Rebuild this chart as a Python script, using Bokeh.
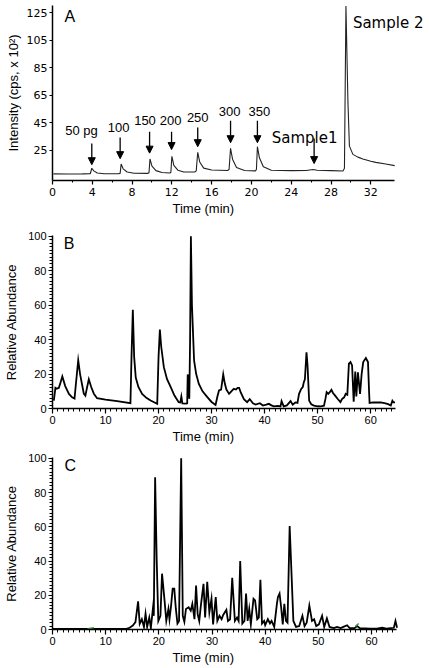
from bokeh.plotting import figure
from bokeh.layouts import column
from bokeh.models import (Range1d, FixedTicker, Arrow, NormalHead, Label,
                          LabelSet, ColumnDataSource, Title)
from bokeh.core.properties import value
from bokeh.embed import file_html
from bokeh.resources import INLINE

# ---------------- Panel A data (time in min, intensity in cps x 10^2) -------------
a_time = [0.1, 1.5, 3.0, 3.8, 3.95, 4.15, 4.5, 5.2, 6.6, 6.8, 6.9, 7.1, 7.5, 8.2,
          9.6, 9.7, 9.8, 10.0, 10.4, 11.0, 11.8, 11.9, 12.0, 12.2, 12.6, 13.2,
          14.3, 14.45, 14.6, 14.8, 15.2, 16.0, 17.6, 17.75, 17.9, 18.1, 18.5,
          19.3, 20.4, 20.5, 20.6, 20.8, 21.2, 22.0, 24.0, 25.5, 26.2, 26.6, 28.0,
          29.2, 29.35, 29.5, 29.7, 29.85, 30.2, 30.7, 31.2, 32.0, 32.5, 33.5, 34.4]
a_int = [7.8, 7.7, 7.8, 7.9, 11.9, 10.0, 8.5, 7.9, 7.9, 8.2, 15.0, 11.5, 9.2, 8.3,
         8.2, 8.6, 18.7, 13.5, 10.2, 8.8, 8.5, 9.0, 20.6, 14.0, 10.5, 9.2,
         9.2, 10.0, 23.5, 16.5, 12.0, 10.6, 10.3, 11.0, 26.4, 18.5, 12.5,
         10.3, 10.0, 11.0, 27.6, 19.5, 13.0, 10.5, 10.2, 10.3, 11.0, 10.5, 10.2,
         9.9, 12.0, 130.0, 60.0, 28.0, 22.0, 20.0, 18.7, 17.0, 16.2, 15.0, 13.8]

a_yticks = [25, 45, 65, 85, 105, 125]
a_xticks = [0, 4, 8, 12, 16, 20, 24, 28, 32]

# arrows / annotations of panel A
ann_labels = ["50 pg", "100", "150", "200", "250", "300", "350"]
ann_label_x = [2.92, 6.64, 9.3, 11.87, 14.6, 17.8, 20.8]
ann_label_y = [36.0, 38.2, 43.6, 43.6, 45.8, 50.2, 50.2]
arrow_x = [3.95, 6.8, 9.76, 11.97, 14.6, 17.9, 20.6, 26.3]
arrow_top = [30.0, 34.2, 38.5, 38.5, 41.5, 46.5, 46.5, 33.5]
arrow_tip = [14.5, 18.9, 22.9, 25.5, 27.6, 30.5, 30.5, 15.3]

# ---------------- Panel B data (relative abundance) ----------------
b_time = [0.25, 0.55, 0.8, 1.2, 1.5, 1.85, 2.4, 3.1, 3.7, 4.15, 4.5, 4.85, 5.2,
          5.9, 6.2, 6.5, 6.85, 7.3, 7.8, 8.4, 10.0, 12.2, 14.7, 14.9, 15.15,
          15.4, 15.7, 16.2, 16.9, 17.7, 18.5, 19.75, 20.0, 20.25, 20.5, 21.0,
          21.6, 22.3, 23.0, 23.8, 24.1, 24.3, 24.5, 25.2, 25.4, 25.5, 25.65,
          25.8, 25.95, 26.1, 26.3, 26.7, 27.1, 27.6, 28.3, 29.2, 30.0, 30.75,
          31.1, 31.4, 31.8, 32.2, 32.5, 32.8, 33.3, 33.6, 33.9, 34.2, 34.6, 34.9,
          35.2, 35.5, 36.1, 36.7, 37.2, 37.8, 38.3, 39.1, 39.7, 40.3, 40.8, 41.3,
          41.75, 42.5, 43.0, 43.2, 43.6, 44.2, 44.9, 45.3, 45.8, 46.2, 46.5,
          46.9, 47.2, 47.4, 47.6, 47.9, 48.1, 48.4, 48.8, 49.3, 50.0, 50.6, 51.2,
          51.5, 51.7, 52.0, 52.3, 52.6, 52.9, 53.3, 53.8, 54.3, 54.6, 55.0, 55.3,
          55.6, 55.9, 56.2, 56.5, 56.8, 57.1, 57.3, 57.6, 58.0, 58.3, 58.6, 59.1,
          59.5, 59.7, 59.8, 60.5, 61.9, 62.8, 63.3, 63.8, 64.1, 64.3, 64.6]
b_abund = [4.6, 12, 11.5, 12, 15, 18.6, 13, 8.5, 6.5, 5.8, 17, 28, 20,
           8.7, 7.5, 12, 17, 12.5, 8.6, 6, 5.2, 4.3, 3.1, 30, 57.4,
           30, 18, 12.5, 8.5, 6.2, 4.6, 2.7, 30, 45.9, 36, 24,
           17, 12.4, 7.5, 3.7, 3.5, 7, 3, 2.8, 3, 19.8, 12,
           5.6, 40, 100, 60, 27.9, 20, 14.3, 10, 6.6, 3.8, 2.1,
           7, 10.5, 11, 19.8, 14.5, 11, 8.5, 9.5, 10.5, 11.4, 11, 12,
           12, 9.3, 5.4, 3.7, 5.4, 3, 2.3, 3.1, 1.7, 2.2, 2.7, 1.8,
           1.2, 1.5, 1.2, 4.3, 1.2, 1.8, 4.3, 2.2, 3.5, 3.2, 8.5,
           11.4, 12.5, 15.3, 17, 32.7, 25, 4.6, 2.5, 1.7, 1.3, 1.2, 1.6,
           6, 9.5, 8.5, 9.5, 10.9, 9, 7.5, 5.5, 3.7, 5.5, 6.5, 8.5,
           8, 26, 27, 25, 4, 21.5, 7, 21, 8.5, 20, 27, 29.3,
           27, 10, 3.2, 3.5, 3.5, 3, 2.5, 1.7, 4.5, 3.6, 3.5]

# ---------------- Panel C data (relative abundance) ----------------
c_time = [0, 7, 13.9, 14.5, 15.1, 15.6, 16.1, 16.4, 16.8, 17.2, 17.5, 17.8, 18.2,
          18.5, 18.9, 19.05, 19.3, 19.6, 19.9, 20.3, 20.6, 21.1, 21.4, 21.8, 22.0,
          22.3, 22.6, 22.9, 23.2, 23.5, 23.8, 24.2, 24.5, 24.8, 25.1, 25.6, 26.0,
          26.3, 26.7, 27.0, 27.3, 27.6, 27.9, 28.4, 28.7, 29.1, 29.5, 29.9, 30.2,
          30.7, 31.0, 31.4, 31.8, 32.1, 32.7, 33.0, 33.4, 33.8, 34.3, 34.7, 35.0,
          35.3, 35.7, 36.1, 36.4, 36.7, 37.0, 37.3, 37.8, 38.1, 38.5, 38.8, 39.1,
          39.4, 39.8, 40.0, 40.5, 40.9, 41.2, 41.7, 42.2, 42.4, 42.7, 43.0, 43.3,
          43.6, 43.9, 44.2, 44.6, 45.3, 45.8, 46.4, 47.0, 47.4, 47.8, 48.3, 48.8,
          49.2, 49.6, 50.1, 50.7, 51.1, 51.6, 52.1, 52.9, 53.5, 54.2, 54.7, 55.4,
          55.9, 56.8, 57.3, 57.8, 59.7, 61.0, 62.0, 62.8, 63.6, 64.2, 64.5, 64.8]
c_abund = [0.3, 0.3, 0.4, 1, 2.3, 4.3, 16.4, 3.3, 6, 1.5, 9.2, 1.5, 7,
           0.9, 12.7, 8, 89, 40, 5, 8, 32.6, 16, 5, 12, 6,
           14, 23.8, 23.8, 12, 3.5, 5, 100, 8, 4.5, 12, 13, 11,
           15, 6, 25.7, 9, 5, 14, 26.7, 7, 27.9, 10, 18, 3,
           19, 5, 8, 6, 8.5, 11.5, 5, 6, 30.2, 5, 7, 5,
           40, 3.5, 5, 21, 5, 12, 3, 18, 17, 6, 7, 29,
           3.5, 5, 2.5, 6, 3.5, 5, 1.5, 15, 19, 21, 13, 3,
           15, 5, 4, 60.4, 5, 1.5, 2, 8, 2, 4, 14, 5,
           6, 2, 3, 8, 1.5, 6.5, 1.5, 0.8, 1.5, 0.8, 1.5, 2.5,
           0.8, 0.8, 2, 0.8, 0.5, 0.5, 1, 0.5, 0.8, 1, 5, 1]

# two small green marks seen on panel C's baseline
c_green_t = [[6.6, 7.8], [57.0, 57.6]]
c_green_v = [[0.5, 1.0], [2.0, 3.5]]

bc_yticks = [0, 20, 40, 60, 80, 100]
bc_xticks = [0, 10, 20, 30, 40, 50, 60]

ARIAL = "Liberation Sans"
WIDE = "DejaVu Sans"
LEFT = 52  # shared frame left edge (frames of a column are aligned)


def base_style(p, tick_font, tick_size):
    p.outline_line_color = None
    p.xgrid.visible = False
    p.ygrid.visible = False
    p.background_fill_color = "white"
    p.border_fill_color = "white"
    for ax in (p.xaxis[0], p.yaxis[0]):
        ax.axis_line_color = "black"
        ax.axis_line_width = 1.5
        ax.major_tick_line_color = "black"
        ax.minor_tick_line_color = "black"
        ax.major_tick_line_width = 1.2
        ax.minor_tick_line_width = 1.0
        ax.major_tick_in = 0
        ax.minor_tick_in = 0
        ax.major_label_text_font = tick_font
        ax.major_label_text_font_size = tick_size
        ax.major_label_text_color = "black"
        ax.axis_label_text_font = ARIAL
        ax.axis_label_text_font_size = "13px"
        ax.axis_label_text_font_style = "normal"
        ax.axis_label_text_color = "black"


def x_title(p, offset):
    p.add_layout(Title(text="Time (min)", align="left", offset=offset,
                       text_font=ARIAL, text_font_size="13px",
                       text_font_style="normal", text_color="black", standoff=0),
                 "below")


# ---------------- Panel A ----------------
pa = figure(width=429, height=226, x_range=Range1d(0, 37.9), y_range=Range1d(3, 130.3),
            output_backend="svg", toolbar_location=None,
            min_border_left=LEFT, min_border_right=0, min_border_top=5, min_border_bottom=46)
base_style(pa, WIDE, "11px")
pa.line(a_time, a_int, line_color="#222222", line_width=1.1)
pa.xaxis.ticker = FixedTicker(ticks=a_xticks, minor_ticks=list(range(2, 34, 4)))
pa.xaxis.bounds = (0, 34.4)
pa.yaxis.ticker = FixedTicker(ticks=a_yticks)
pa.xaxis.major_tick_out = 4
pa.xaxis.minor_tick_out = 2
pa.yaxis.major_tick_out = 3
pa.yaxis.minor_tick_out = 0
pa.xaxis.major_label_standoff = 3
pa.yaxis.major_label_standoff = 2
pa.yaxis.axis_label = "Intensity (cps, x 10²)"
pa.yaxis.axis_label_standoff = 3
x_title(pa, 120)

arrow_src = ColumnDataSource(dict(x=arrow_x, y0=arrow_top, y1=arrow_tip))
pa.add_layout(Arrow(end=NormalHead(size=7, fill_color="black", line_color="black"),
                    source=arrow_src, x_start="x", y_start="y0", x_end="x", y_end="y1",
                    line_width=1.3, line_color="black"))
lab_src = ColumnDataSource(dict(x=ann_label_x, y=ann_label_y, t=ann_labels))
pa.add_layout(LabelSet(source=lab_src, x="x", y="y", text="t", text_align="center",
                       text_baseline="alphabetic", text_font=value(ARIAL),
                       text_font_size="13px", text_color="black"))
pa.add_layout(Label(x=25.35, y=34.2, text="Sample1", text_align="center",
                    text_baseline="alphabetic", text_font=WIDE, text_font_size="15px",
                    text_color="black"))
pa.add_layout(Label(x=30.2, y=117.8, text="Sample 2", text_align="left",
                    text_baseline="alphabetic", text_font=WIDE, text_font_size="15px",
                    text_color="black"))
pa.add_layout(Label(x=1.2, y=122.2, text="A", text_align="left",
                    text_baseline="alphabetic", text_font=ARIAL, text_font_size="16px",
                    text_color="black"))


def rel_panel(height, top, bottom, x_end, t, a, letter, letter_x, title_off):
    p = figure(width=429, height=height, x_range=Range1d(0, x_end), y_range=Range1d(0, 100.5),
               output_backend="svg", toolbar_location=None,
               min_border_left=LEFT, min_border_right=0,
               min_border_top=top, min_border_bottom=bottom)
    base_style(p, ARIAL, "11px")
    p.line(t, a, line_color="black", line_width=1.8, line_join="miter")
    p.xaxis.ticker = FixedTicker(ticks=bc_xticks, minor_ticks=[i for i in range(0, 65) if i % 10])
    p.xaxis.bounds = (0, 64.7)
    p.yaxis.ticker = FixedTicker(ticks=bc_yticks, minor_ticks=[i for i in range(0, 101, 2) if i % 20])
    p.xaxis.major_tick_out = 5
    p.xaxis.minor_tick_out = 3
    p.yaxis.major_tick_out = 4
    p.yaxis.minor_tick_out = 3
    p.xaxis.major_label_standoff = 2
    p.yaxis.major_label_standoff = 2
    p.yaxis.axis_label = "Relative Abundance"
    p.yaxis.axis_label_standoff = 6
    p.add_layout(Label(x=letter_x, y=95.9, text=letter, text_align="left",
                       text_baseline="alphabetic", text_font=ARIAL, text_font_size="16px",
                       text_color="black"))
    x_title(p, title_off)
    return p


pb = rel_panel(222, 9, 40, 71.1, b_time, b_abund, "B", 2.1, 120)
pc = rel_panel(220, 9, 39, 70.9, c_time, c_abund, "C", 2.26, 120)
pc.multi_line(c_green_t, c_green_v, line_color="#3a9a3a", line_width=1.5)

layout = column(pa, pb, pc, spacing=0)
open("out.html", "w").write(file_html(layout, INLINE))
